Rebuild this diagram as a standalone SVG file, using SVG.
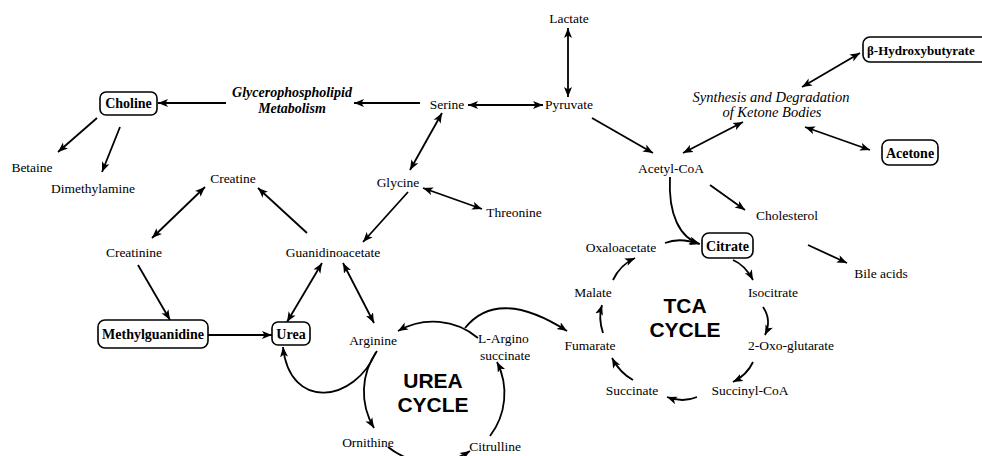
<svg xmlns="http://www.w3.org/2000/svg" width="982" height="456" viewBox="0 0 982 456">
<style>
.t{font-family:"Liberation Serif","Times New Roman",serif;font-size:13.5px;text-anchor:middle;fill:#000}
.b{font-weight:bold;font-size:14px}
.i{font-style:italic;font-size:14.5px}
.bi{font-style:italic;font-weight:bold;font-size:14px}
.cyc{font-family:"Liberation Sans",Arial,sans-serif;font-weight:bold;font-size:21px;text-anchor:middle;fill:#000}
.box{fill:#fff;stroke:#000;stroke-width:1.6}
.c{fill:none;stroke:#000;stroke-width:1.8}
.a1{marker-end:url(#ah)}
.a2{marker-start:url(#ah);marker-end:url(#ah)}
</style>
<defs>
<marker id="ah" markerUnits="userSpaceOnUse" markerWidth="11" markerHeight="9" refX="10" refY="4" orient="auto-start-reverse" viewBox="0 0 11 8">
<path d="M0,0 L10,4 L0,8 L2.5,4 z" fill="#000"/>
</marker>
</defs>
<rect width="982" height="456" fill="#fff"/>
<g id="connectors">
<path class="c a2" d="M568,28 L568,97"/>
<path class="c a2" d="M468,105 L543,105"/>
<path class="c a1" d="M420,103 L354,103"/>
<path class="c a1" d="M226,103 L158,103"/>
<path class="c a1" d="M97,118 L58,152"/>
<path class="c a1" d="M120,127 L102,172"/>
<path class="c a2" d="M442,113 L410,170"/>
<path class="c a2" d="M423,188 L482,209"/>
<path class="c a1" d="M408,192 L363,242"/>
<path class="c a1" d="M307,233 L258,188"/>
<path class="c a2" d="M205,187 L152,238"/>
<path class="c a1" d="M138,265 L170,320"/>
<path class="c a1" d="M208,335 L272,335"/>
<path class="c a2" d="M322,263 L287,322"/>
<path class="c a2" d="M343,263 L374,323"/>
<path class="c a1" d="M376,352 C355,402 290,412 283,347"/>
<path class="c a1" d="M478,338 A70,70 0 0 0 398,331"/>
<path class="c a1" d="M377,351 A70,70 0 0 0 374,428"/>
<path class="c a1" d="M388,447 A70,70 0 0 0 470,451"/>
<path class="c a1" d="M490,436 A70,70 0 0 0 497,362"/>
<path class="c a1" d="M465,328 Q498,287 567,331"/>
<path class="c a1" d="M592,118 L653,153"/>
<path class="c a2" d="M683,153 L743,122"/>
<path class="c a2" d="M802,87 L860,53"/>
<path class="c a2" d="M805,127 L870,150"/>
<path class="c a1" d="M710,185 L745,210"/>
<path class="c a1" d="M808,245 L847,263"/>
<path class="c a1" d="M670,177 C668,215 680,238 700,244"/>
<path class="c a1" d="M665,243 Q680,237 699,244"/>
<path class="c a1" d="M733,260 Q745,265 753,280"/>
<path class="c a1" d="M763,307 Q772,320 765,335"/>
<path class="c a1" d="M753,362 Q747,375 733,382"/>
<path class="c a1" d="M697,397 Q683,403 667,397"/>
<path class="c a1" d="M633,380 Q620,373 612,358"/>
<path class="c a1" d="M603,333 Q598,318 602,305"/>
<path class="c a1" d="M613,280 Q620,265 635,258"/>
</g>
<g id="lactate"><text class="t" x="569" y="23">Lactate</text></g>
<g id="pyruvate"><text class="t" x="569" y="109">Pyruvate</text></g>
<g id="serine"><text class="t" x="447" y="109">Serine</text></g>
<g id="glycerophospholipid"><text class="t bi" x="292" y="97">Glycerophospholipid</text><text class="t bi" x="292" y="113">Metabolism</text></g>
<g id="choline"><rect class="box" x="100" y="92" width="57" height="23" rx="6"/><text class="t b" x="128.5" y="108">Choline</text></g>
<g id="betaine"><text class="t" x="32" y="172">Betaine</text></g>
<g id="dimethylamine"><text class="t" x="93" y="193">Dimethylamine</text></g>
<g id="creatine"><text class="t" x="233" y="183">Creatine</text></g>
<g id="glycine"><text class="t" x="398" y="187">Glycine</text></g>
<g id="threonine"><text class="t" x="514" y="217">Threonine</text></g>
<g id="creatinine"><text class="t" x="134" y="257">Creatinine</text></g>
<g id="guanidinoacetate"><text class="t" x="333" y="257">Guanidinoacetate</text></g>
<g id="methylguanidine"><rect class="box" x="98" y="320" width="110" height="28" rx="7"/><text class="t b" x="153" y="339">Methylguanidine</text></g>
<g id="urea"><rect class="box" x="272" y="322" width="38" height="23" rx="6"/><text class="t b" x="291" y="339">Urea</text></g>
<g id="arginine"><text class="t" x="373" y="345">Arginine</text></g>
<g id="largininosuccinate"><text class="t" x="478" y="343" style="text-anchor:start">L-Argino</text><text class="t" x="480" y="360" style="text-anchor:start">succinate</text></g>
<g id="ureacycle"><text class="cyc" x="433" y="388">UREA</text><text class="cyc" x="433" y="412">CYCLE</text></g>
<g id="ornithine"><text class="t" x="368" y="447">Ornithine</text></g>
<g id="citrulline"><text class="t" x="495" y="451">Citrulline</text></g>
<g id="acetylcoa"><text class="t" x="671" y="173">Acetyl-CoA</text></g>
<g id="ketone"><text class="t i" x="771" y="102">Synthesis and Degradation</text><text class="t i" x="772" y="117">of Ketone Bodies</text></g>
<g id="hydroxybutyrate"><rect class="box" x="863" y="37" width="130" height="25" rx="7"/><text class="t b" x="867" y="54.5" style="text-anchor:start;font-size:13px">β-Hydroxybutyrate</text></g>
<g id="acetone"><rect class="box" x="882" y="140" width="56" height="25" rx="7"/><text class="t b" x="910" y="158">Acetone</text></g>
<g id="cholesterol"><text class="t" x="787" y="220">Cholesterol</text></g>
<g id="citrate"><rect class="box" x="702" y="233" width="51" height="25" rx="7"/><text class="t b" x="727.5" y="251">Citrate</text></g>
<g id="bileacids"><text class="t" x="881" y="278">Bile acids</text></g>
<g id="oxaloacetate"><text class="t" x="621" y="252">Oxaloacetate</text></g>
<g id="isocitrate"><text class="t" x="773" y="297">Isocitrate</text></g>
<g id="malate"><text class="t" x="593" y="297">Malate</text></g>
<g id="tcacycle"><text class="cyc" x="685" y="313">TCA</text><text class="cyc" x="685" y="337">CYCLE</text></g>
<g id="fumarate"><text class="t" x="590" y="350">Fumarate</text></g>
<g id="oxoglutarate"><text class="t" x="791" y="350">2-Oxo-glutarate</text></g>
<g id="succinate"><text class="t" x="632" y="395">Succinate</text></g>
<g id="succinylcoa"><text class="t" x="750" y="395">Succinyl-CoA</text></g>
</svg>
